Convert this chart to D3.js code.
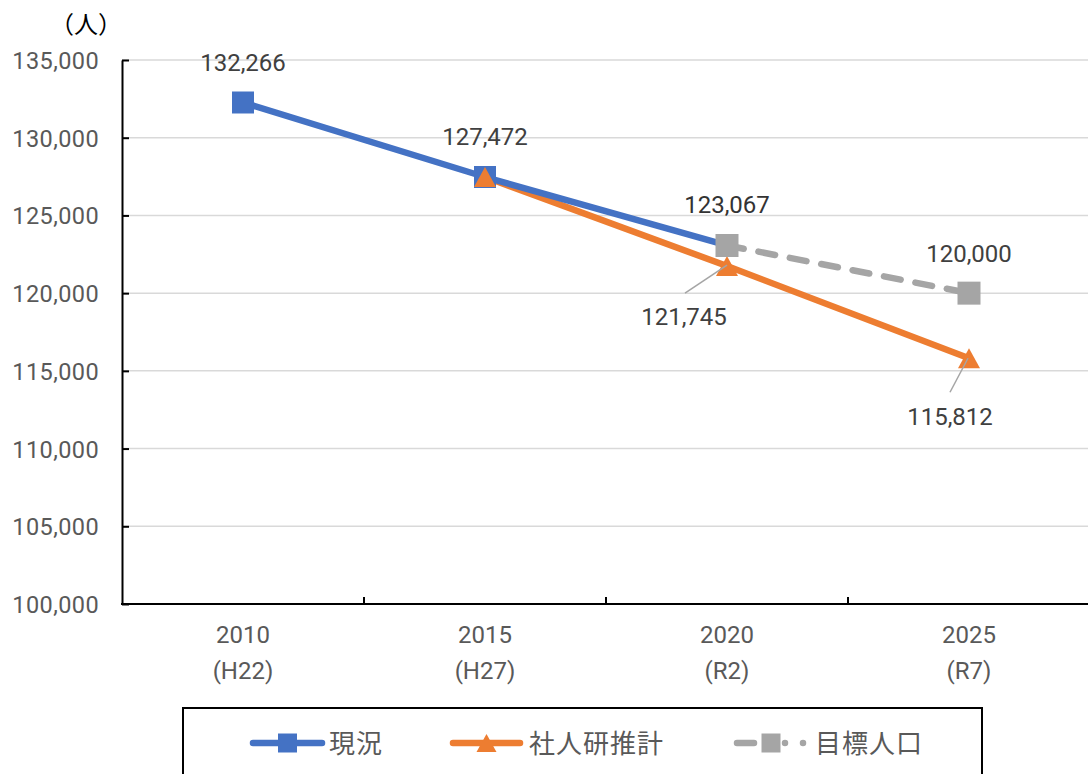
<!DOCTYPE html>
<html><head><meta charset="utf-8">
<script src="https://cdn.jsdelivr.net/npm/d3@7"></script>
<style>body{margin:0;background:#fff;}svg{display:block;font-family:"Noto Sans CJK JP",Roboto,sans-serif;}</style>
</head><body>
<svg id="c" width="1088" height="774"></svg>
<script>
const years = ["2010","2015","2020","2025"];
const eras = ["(H22)","(H27)","(R2)","(R7)"];
const actual = [132266, 127472, 123067, null];
const ipss = [null, 127472, 121745, 115812];
const target = [null, null, 123067, 120000];
const yTicks = [100000,105000,110000,115000,120000,125000,130000,135000];
const seriesNames = ["現況","社人研推計","目標人口"];

const svg = d3.select("#c");
const x = d3.scaleBand().domain(years).range([122, 1090]);
const y = d3.scaleLinear().domain([100000,135000]).range([604, 60]);
const cx = d => x(d) + x.bandwidth()/2;
const fmt = d3.format(",");
const grey = "#595959";
const dark = "#404040";

// gridlines
svg.append("g").selectAll("line").data(yTicks.slice(1)).join("line")
  .attr("x1",122).attr("x2",1088).attr("y1",d=>y(d)).attr("y2",d=>y(d))
  .attr("stroke","#d9d9d9").attr("stroke-width",1.5);

// y axis (ticks pointing inward)
const ya = svg.append("g").attr("transform","translate(122,0)")
  .call(d3.axisLeft(y).tickValues(yTicks).tickFormat(fmt).tickSize(-7).tickSizeOuter(0));
ya.select(".domain").attr("stroke","#000").attr("stroke-width",2);
ya.selectAll(".tick line").attr("stroke","#000").attr("stroke-width",2);
ya.selectAll(".tick text").attr("x",-23).attr("dy","0.36em").attr("fill",grey)
  .style("font-size","23.5px").style("font-family","Roboto").style("letter-spacing","0.4px");

// x axis
const xa = svg.append("g").attr("transform","translate(0,604)")
  .call(d3.axisBottom(x).tickSize(0).tickSizeOuter(0));
xa.select(".domain").attr("stroke","#000").attr("stroke-width",2).attr("d","M121,0H1088");
xa.selectAll(".tick text").remove();
svg.append("g").selectAll("line").data(years.slice(1)).join("line")
  .attr("x1",d=>x(d)).attr("x2",d=>x(d)).attr("y1",604).attr("y2",597)
  .attr("stroke","#000").attr("stroke-width",2);
const xl = svg.append("g").selectAll("g").data(years).join("g");
xl.append("text").attr("x",d=>cx(d)).attr("y",643).attr("text-anchor","middle")
  .attr("fill",grey).style("font-size","24px").style("font-family","Roboto").text(d=>d);
xl.append("text").attr("x",d=>cx(d)).attr("y",679).attr("text-anchor","middle")
  .attr("fill",grey).style("font-size","24px").style("font-family","Roboto").text((d,i)=>eras[i]);

// y unit
svg.append("text").attr("x",86).attr("y",33).attr("text-anchor","middle")
  .style("font-size","24px").attr("fill","#000").text("（人）");

const line = d3.line().defined(d=>d.v!=null).x(d=>cx(d.k)).y(d=>y(d.v));
const mk = arr => arr.map((v,i)=>({k:years[i],v}));

// target (dashed)
svg.append("path").datum(mk(target)).attr("d",line).attr("fill","none")
  .attr("stroke","#a5a5a5").attr("stroke-width",6.5).attr("stroke-dasharray","17,15").attr("stroke-linecap","round");
// ipss
svg.append("path").datum(mk(ipss)).attr("d",line).attr("fill","none")
  .attr("stroke","#ed7d31").attr("stroke-width",6.5);
// actual
svg.append("path").datum(mk(actual)).attr("d",line).attr("fill","none")
  .attr("stroke","#4472c4").attr("stroke-width",6.5);

const sq = s => `M${-s/2},${-s/2}h${s}v${s}h${-s}Z`;
const tri = (w,h) => `M0,${-h/2}L${w/2},${h/2}L${-w/2},${h/2}Z`;

svg.append("g").selectAll("path").data(mk(actual).filter(d=>d.v!=null)).join("path")
  .attr("d",sq(22)).attr("transform",d=>`translate(${cx(d.k)},${y(d.v)})`).attr("fill","#4472c4");
svg.append("g").selectAll("path").data(mk(ipss).filter(d=>d.v!=null)).join("path")
  .attr("d",tri(22,20)).attr("transform",d=>`translate(${cx(d.k)},${y(d.v)})`).attr("fill","#ed7d31");
svg.append("g").selectAll("path").data(mk(target).filter(d=>d.v!=null)).join("path")
  .attr("d",sq(23)).attr("transform",d=>`translate(${cx(d.k)},${y(d.v)})`).attr("fill","#a5a5a5");

// data labels
const lab = (txt, px, py, col) => svg.append("text").attr("x",px).attr("y",py).attr("text-anchor","middle")
  .attr("fill",col||dark).style("font-size","24px").style("font-family","Roboto").text(txt);
lab(fmt(actual[0]), cx(years[0]), y(actual[0]) - 31.5);
lab(fmt(actual[1]), cx(years[1]), y(actual[1]) - 32);
lab(fmt(actual[2]), cx(years[2]), y(actual[2]) - 32.5, "#333");
lab(fmt(target[3]), cx(years[3]), y(target[3]) - 31);
lab(fmt(ipss[2]), cx(years[2]) - 43, y(ipss[2]) + 59);
lab(fmt(ipss[3]), cx(years[3]) - 19, y(ipss[3]) + 67);
// leader lines
svg.append("line").attr("x1",cx(years[2])-42).attr("y1",y(ipss[2])+27).attr("x2",cx(years[2])).attr("y2",y(ipss[2])-1)
  .attr("stroke","#a5a5a5").attr("stroke-width",1.5);
svg.append("line").attr("x1",cx(years[3])-19).attr("y1",y(ipss[3])+34).attr("x2",cx(years[3])-1).attr("y2",y(ipss[3]))
  .attr("stroke","#a5a5a5").attr("stroke-width",1.5);

// legend
svg.append("rect").attr("x",183).attr("y",708).attr("width",799).attr("height",80)
  .attr("fill","none").attr("stroke","#000").attr("stroke-width",2);
const leg = [
  {x1:253,x2:322,c:"#4472c4",dash:null,tx:329},
  {x1:453,x2:520,c:"#ed7d31",dash:null,tx:529},
  {x1:737,x2:805,c:"#a5a5a5",dash:"17,31,0,18,0,100",tx:815}
];
const lg = svg.append("g").selectAll("g").data(leg).join("g");
lg.append("line").attr("x1",d=>d.x1).attr("x2",d=>d.x2).attr("y1",743).attr("y2",743)
  .attr("stroke",d=>d.c).attr("stroke-width",6.5).attr("stroke-linecap","round").attr("stroke-dasharray",d=>d.dash);
lg.append("path").attr("d",(d,i)=>i==1?tri(20,18):sq(19))
  .attr("transform",(d,i)=>`translate(${i==2?771:(d.x1+d.x2)/2},743)`).attr("fill",d=>d.c);
lg.append("text").attr("x",d=>d.tx).attr("y",753).attr("fill",grey).style("font-size","26px")
  .style("letter-spacing","1px").text((d,i)=>seriesNames[i]);
</script>
</body></html>
